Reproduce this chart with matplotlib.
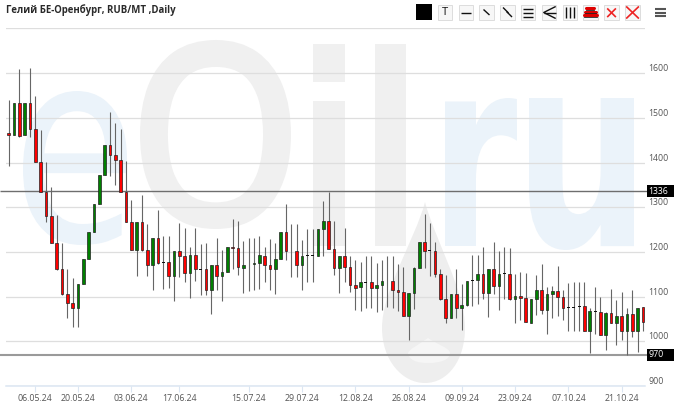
import matplotlib
matplotlib.use("Agg")
import matplotlib.pyplot as plt
from matplotlib.font_manager import FontProperties
from matplotlib.patches import PathPatch, Rectangle
from matplotlib.path import Path
from matplotlib.textpath import TextPath
from matplotlib.transforms import Affine2D, IdentityTransform

opens = [1465,1461,1534,1461,1534,1475,1401,1334,1281,1221,1162,1105,1085,1075,1129,1185,1244,1307,1372,1440,
         1416,1405,1334,1268,1205,1267,1204,1171,1231,1177,1177,1145,1202,1191,1152,1193,1161,1161,1115,1171,
         1147,1155,1211,1208,1165,1173,1173,1176,1191,1170,1161,1185,1244,1202,1201,1170,1191,1191,1190,1251,
         1270,1207,1165,1191,1166,1125,1121,1132,1132,1120,1126,1135,1134,1115,1111,1056,1109,1165,1223,1203,
         1202,1151,1094,1053,1106,1075,1081,1137,1137,1151,1107,1162,1124,1151,1151,1095,1102,1097,1042,1094,
         1115,1069,1106,1113,1100,1076,1076,1078,1078,1023,1067,1066,1014,1064,1041,1056,1022,1061,1023,1076]
closes = [1461,1534,1460,1534,1475,1401,1334,1281,1221,1162,1105,1085,1075,1129,1185,1244,1307,1372,1440,1416,
          1405,1334,1268,1205,1267,1204,1171,1231,1176,1177,1145,1202,1191,1152,1193,1161,1161,1115,1171,1147,
          1155,1212,1208,1166,1170,1173,1176,1192,1170,1161,1185,1244,1201,1202,1170,1190,1191,1191,1251,1270,
          1207,1165,1191,1166,1125,1120,1132,1132,1120,1126,1134,1135,1115,1111,1056,1109,1165,1223,1203,1203,
          1151,1094,1053,1106,1075,1081,1135,1137,1151,1107,1162,1124,1151,1151,1094,1102,1097,1043,1094,1115,
          1069,1106,1113,1100,1075,1076,1076,1078,1023,1067,1067,1015,1064,1041,1056,1022,1061,1023,1075,1044]
highs = [1539,1534,1610,1534,1612,1549,1472,1402,1346,1282,1220,1162,1141,1129,1185,1244,1307,1372,1440,1512,
         1488,1475,1403,1317,1267,1328,1263,1231,1293,1236,1236,1202,1264,1253,1211,1253,1218,1220,1171,1231,
         1205,1212,1273,1269,1225,1231,1232,1235,1212,1229,1221,1245,1308,1262,1262,1227,1251,1251,1251,1314,
         1335,1269,1191,1253,1191,1182,1178,1191,1191,1176,1182,1191,1191,1172,1167,1109,1166,1223,1284,1265,
         1222,1161,1149,1106,1162,1129,1135,1193,1194,1211,1162,1222,1202,1211,1208,1150,1156,1152,1094,1149,
         1172,1121,1124,1169,1115,1130,1132,1132,1132,1074,1121,1100,1065,1117,1093,1110,1074,1114,1075,1076]
lows = [1393,1461,1457,1461,1458,1401,1334,1268,1220,1160,1104,1053,1033,1032,1129,1185,1244,1307,1372,1370,
        1349,1334,1267,1205,1147,1203,1145,1114,1173,1118,1120,1090,1143,1132,1097,1134,1104,1104,1061,1114,
        1091,1154,1161,1149,1109,1113,1114,1117,1132,1114,1106,1185,1182,1143,1143,1114,1132,1132,1190,1191,
        1207,1149,1108,1132,1111,1069,1067,1075,1075,1066,1070,1077,1074,1067,1056,1004,1073,1164,1163,1145,
        1143,1093,1041,1052,1053,1026,1080,1079,1083,1094,1055,1105,1070,1095,1093,1041,1048,1043,1042,1059,
        1060,1017,1052,1057,1047,1023,1023,1023,1023,974,1017,1015,981,1041,991,1003,970,1009,975,1022]

price_ticks = [900, 1000, 1100, 1200, 1300, 1400, 1500, 1600, 1700]
price_labels = ["900", "1000", "1100", "1200", "1300", "1400", "1500", "1600", ""]
date_positions = [5, 13, 23, 32, 45, 55, 65, 75, 85, 95, 105, 115]
date_labels = ["06.05.24", "20.05.24", "03.06.24", "17.06.24", "15.07.24", "29.07.24",
               "12.08.24", "26.08.24", "09.09.24", "23.09.24", "07.10.24", "21.10.24"]
level_values = [1336, 970]
title = "Гелий БЕ-Оренбург, RUB/MT ,Daily"

W, H = 680, 405
FONT = "Open Sans"
TEXT = "#555555"
UP, DOWN = "#008000", "#ff0000"
GRAY_WM, BLUE_WM = "#f0f0f0", "#ebf3fa"

fig = plt.figure(figsize=(W / 100, H / 100), dpi=100, facecolor="white")
ident = IdentityTransform()


def glyph(ch, box, color, family="DejaVu Sans", weight="bold", grow=0.0):
    """Watermark letter fitted into a pixel box (x0, y0, x1, y1), y measured from the top."""
    tp = TextPath((0, 0), ch, size=100, prop=FontProperties(family=family, weight=weight))
    b = tp.get_extents()
    x0, y0, x1, y1 = box
    tr = (Affine2D().translate(-b.x0, -b.y0)
          .scale((x1 - x0 - grow) / b.width, (y1 - y0 - grow) / b.height)
          .translate(x0 + grow / 2, H - y1 + grow / 2))
    fig.add_artist(PathPatch(tr.transform_path(tp), fc=color, ec=color if grow else "none",
                             lw=grow * 0.72, transform=ident, zorder=-5))


glyph("e", (23, 91, 127, 245), BLUE_WM, "Open Sans", "normal", grow=2)
glyph("O", (140, 40, 291, 229), GRAY_WM, "Open Sans", "normal", grow=9)
glyph("i", (313, 44, 345, 246), GRAY_WM)
glyph("l", (375, 44, 406, 246), GRAY_WM)
glyph("r", (445, 98, 517, 246), BLUE_WM)
glyph("u", (529, 98, 634, 250), BLUE_WM)


def drop(ax_pts, color, z):
    codes = [Path.MOVETO] + [Path.CURVE4] * 12
    verts = [(x, H - y) for x, y in ax_pts]
    fig.add_artist(PathPatch(Path(verts, codes), fc=color, ec="none", transform=ident, zorder=z))


drop([(425, 202), (415, 240), (382, 290), (382, 328), (382, 360), (402, 383), (425, 383),
      (448, 383), (465, 360), (465, 328), (465, 290), (435, 240), (425, 202)], "#eeeeee", -4)
drop([(428, 338), (420, 344), (407, 350), (408, 354), (410, 360), (416, 363), (428, 363),
      (440, 363), (450, 360), (450, 353), (450, 348), (436, 344), (428, 338)], "#f6f6f6", -3)

ax = fig.add_axes([6 / W, 1 - 386 / H, 639 / W, 358 / H], facecolor="none")
ax.set_xlim(-0.5, 119.36)
ax.set_ylim(900, 1701)

ax.set_yticks(price_ticks, price_labels)
ax.set_xticks(date_positions, date_labels)
ax.yaxis.tick_right()
ax.grid(axis="y", color="#dedede", lw=0.9, zorder=0)
ax.set_axisbelow(True)
for s in ("top", "left", "right"):
    ax.spines[s].set_visible(False)
ax.spines["bottom"].set_color("#dbe6f2")
ax.spines["bottom"].set_linewidth(1.1)
ax.tick_params(axis="x", length=4.3, width=0.8, color="#dbe6f2", pad=1.5,
               labelsize=6.3, labelcolor=TEXT)
ax.tick_params(axis="y", length=0, pad=2.2, labelsize=6.3, labelcolor=TEXT)
for lab in ax.get_xticklabels() + ax.get_yticklabels():
    lab.set_fontfamily(FONT)
for lab in ax.get_yticklabels():
    lab.set_va("bottom")

idx = list(range(len(opens)))
ax.vlines(idx, lows, highs, color="#666666", lw=0.8, zorder=3)
for i, o, c in zip(idx, opens, closes):
    bottom, top = min(o, c), max(o, c)
    color = UP if c > o else DOWN
    if top - bottom < 2:
        ax.bar(i, 2, bottom=bottom - 1, width=0.55, color="#111111", lw=0, zorder=4)
    else:
        ax.bar(i, top - bottom, bottom=bottom, width=0.5, color=color,
               edgecolor="#222222", lw=0.5, zorder=4)

level_styles = [("#6e6e6e", 1.0), ("#9a9a9a", 1.5)]
yax = ax.get_yaxis_transform()
for v, (col, lw) in zip(level_values, level_styles):
    ax.plot([-6 / 639, 1.003], [v, v], transform=yax, color=col, lw=lw,
            clip_on=False, zorder=2, solid_capstyle="butt")
    ax.add_patch(Rectangle((1.003, v - 13.5), 27.5 / 639, 27, transform=yax, fc="black",
                           ec="none", clip_on=False, zorder=5))
    ax.annotate(str(v), xy=(1.003, v), xycoords=yax, xytext=(1.2, 0),
                textcoords="offset points", va="center", ha="left", color="white",
                fontsize=6.3, fontfamily=FONT, zorder=6)

fig.text(6 / W, 1 - 10 / H, title, fontsize=6.9, fontweight="bold", color="#2a2a2a",
         family=FONT, ha="left", va="center")

# toolbar
tb = fig.add_axes([0, 0, 1, 1], facecolor="none")
tb.set_xlim(0, W)
tb.set_ylim(H, 0)
tb.axis("off")
tb.add_patch(Rectangle((416, 4), 16, 16, fc="black", ec="none"))
btn_x = [437.7, 458.5, 479, 500, 520.7, 541.7, 562.5, 583, 604.3, 625.3]
for x in btn_x:
    tb.add_patch(Rectangle((x, 5), 14.6, 15, fc="#f7f7f7", ec="#dddddd", lw=0.7))
tb.text(btn_x[0] + 7.3, 12.8, "T", fontsize=8, color="#111111", ha="center", va="center", family=FONT)
kw = dict(color="#111111", lw=1.0, solid_capstyle="butt")
x = btn_x[1]; tb.plot([x + 2.5, x + 12], [12.5, 12.5], **kw)
x = btn_x[2]; tb.plot([x + 4.5, x + 10.5], [9.5, 15], **kw)
x = btn_x[3]; tb.plot([x + 3, x + 8.5], [7.5, 13], **kw); tb.plot([x + 6.5, x + 12], [11.5, 17], **kw)
x = btn_x[4]
for yy in (8.5, 12.5, 16.5):
    tb.plot([x + 2.5, x + 12.5], [yy, yy], **kw)
x = btn_x[5]; tb.plot([x + 14, x + 2, x + 14], [6.5, 12.5, 18.5], **kw); tb.plot([x + 2, x + 14], [12.5, 12.5], **kw)
x = btn_x[6]
for dx in (3.5, 7.5, 11.5):
    tb.plot([x + dx, x + dx], [7, 18], **kw)
x = btn_x[7]
for yy, hw in ((8, 4), (11.5, 5.5), (15, 6.5)):
    tb.plot([x + 7.3 - hw, x + 7.3 + hw], [yy, yy], color="#dd0000", lw=2.2, solid_capstyle="round")
    tb.plot([x + 7.3 - hw, x + 7.3 + hw], [yy + 1.6, yy + 1.6], color="#222222", lw=0.6)
x = btn_x[8]
tb.plot([x + 3.5, x + 11], [9, 16.5], color="#ee2222", lw=1.2); tb.plot([x + 3.5, x + 11], [16.5, 9], color="#ee2222", lw=1.2)
x = btn_x[9]
tb.plot([x + 1.5, x + 13], [7, 18], color="#ee2222", lw=1.2); tb.plot([x + 1.5, x + 13], [18, 7], color="#ee2222", lw=1.2)
for yy in (8.7, 12.5, 16):
    tb.plot([654.5, 665.5], [yy, yy], color="#555555", lw=1.5, solid_capstyle="butt")

fig.savefig("out.png", dpi=100)
